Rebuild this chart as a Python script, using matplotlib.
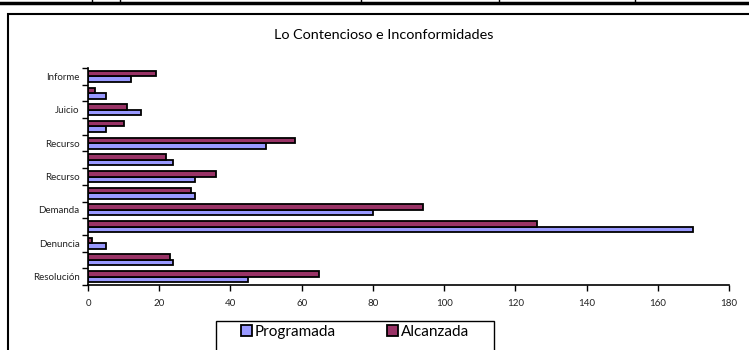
import numpy as np
import matplotlib.pyplot as plt
from matplotlib.patches import Rectangle
from matplotlib.lines import Line2D

# categories bottom -> top (every other label is hidden in the original)
categories = ['Resolución', '', 'Denuncia', '', 'Demanda', '', 'Recurso',
              '', 'Recurso', '', 'Juicio', '', 'Informe']
programada = [45, 24, 5, 170, 80, 30, 30, 24, 50, 5, 15, 5, 12]
alcanzada = [65, 23, 1, 126, 94, 29, 36, 22, 58, 10, 11, 2, 19]
xticks = [0, 20, 40, 60, 80, 100, 120, 140, 160, 180]

plt.rcParams['font.family'] = ['Lato', 'DejaVu Sans']

W, H = 749, 350
fig = plt.figure(figsize=(W / 100, H / 100), dpi=100)
fig.patch.set_facecolor('white')

# frame of the chart object and the table edge above it
fig.add_artist(Rectangle((8 / W, -0.2), 1.0, 1 - 14 / H + 0.2,
                         transform=fig.transFigure, fill=False,
                         edgecolor='black', linewidth=1.5))
fig.add_artist(Line2D([0, 1], [1 - 3 / H] * 2, transform=fig.transFigure,
                      color='black', linewidth=2.5))
for vx in [92, 120, 361, 499, 635]:
    fig.add_artist(Line2D([vx / W] * 2, [1 - 3 / H, 1.0],
                          transform=fig.transFigure, color='black', linewidth=1))

ax = fig.add_axes([88 / W, 1 - 285 / H, (729 - 88) / W, (285 - 68) / H])

y = np.arange(len(categories))
h = 0.33
ax.barh(y - h / 2, programada, height=h, color='#9999FF', edgecolor='black',
        linewidth=1.3, label='Programada')
ax.barh(y + h / 2, alcanzada, height=h, color='#993366', edgecolor='black',
        linewidth=1.3, label='Alcanzada')

ax.set_xlim(0, 180)
ax.set_ylim(-0.5, len(categories) - 0.5)
ax.set_xticks(xticks)
ax.set_xticklabels([str(v) for v in xticks], fontsize=7, color='#222222')
ax.set_yticks(y)
ax.set_yticklabels(categories, fontsize=7, color='#222222')
ax.tick_params(axis='y', length=0, pad=6)
ax.set_yticks(np.arange(-0.5, len(categories), 1), minor=True)
ax.tick_params(axis='y', which='minor', length=4, width=1)
ax.tick_params(axis='x', length=4, width=1, pad=6)
for s in ['top', 'right']:
    ax.spines[s].set_visible(False)
for s in ['left', 'bottom']:
    ax.spines[s].set_linewidth(1.2)

fig.text(384 / W, 1 - 35 / H, 'Lo Contencioso e Inconformidades',
         ha='center', va='center', fontsize=10.4)

# legend box (runs off the bottom of the picture)
fig.add_artist(Rectangle((216 / W, -0.1), (494 - 216) / W, 0.1 + 1 - 321 / H,
                         transform=fig.transFigure, fill=False,
                         edgecolor='black', linewidth=1))
leg = fig.legend(loc='upper left', bbox_to_anchor=(236 / W, 1 - 320 / H),
                 ncol=2, fontsize=11, frameon=False,
                 handlelength=0.75, handleheight=0.75,
                 handletextpad=0.2, columnspacing=3.3, borderpad=0.3,
                 borderaxespad=0)

fig.savefig('out.png', dpi=100)
